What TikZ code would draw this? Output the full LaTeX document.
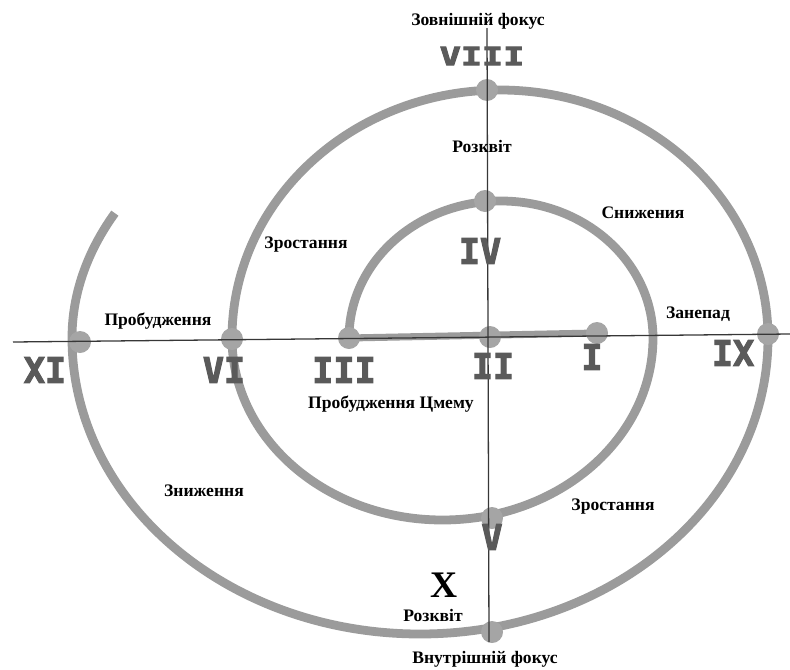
\documentclass[tikz,border=0pt]{standalone}
\usepackage{fontspec}
\setmainfont{Liberation Serif}
\newfontfamily\romfont{DejaVu Sans Mono}[BoldFeatures={FakeBold=3}]
\usetikzlibrary{backgrounds}
\definecolor{spiralgray}{RGB}{155,155,155}
\definecolor{dotgray}{RGB}{165,165,165}
\definecolor{numgray}{RGB}{90,90,90}
\definecolor{axisgray}{RGB}{55,55,55}

\begin{document}
\begin{tikzpicture}[x=0.03cm,y=-0.03cm,
	dot/.style={circle, fill=dotgray, minimum size=0.66cm, inner sep=0pt},
	spiral/.style={draw=spiralgray, line width=7.5pt},
	axis/.style={draw=axisgray, line width=1.1pt},
	roman/.style={font=\romfont\bfseries\fontsize{30}{30}\selectfont, text=numgray, inner sep=0pt},
	phase/.style={font=\bfseries\fontsize{15}{15}\selectfont, inner sep=1pt}]
	\useasboundingbox (0,0) rectangle (790,669);
	% points on the spiral
	\node[dot] (p8) at (487,90) {};
	\node[dot] (p4) at (485,201) {};
	\node[dot] (p2) at (490,337) {};
	\node[dot] (p1) at (597,333) {};
	\node[dot] (p9) at (768,334) {};
	\node[dot] (p3) at (349,338) {};
	\node[dot] (p6) at (232,339) {};
	\node[dot] (p11) at (80,342) {};
	\node[dot] (p5) at (492,518) {};
	\node[dot] (p10) at (492,632) {};
	\begin{scope}[on background layer]
		\draw[spiral, line width=6pt] (p3.center) -- (p1.center);
		\draw[spiral] (p3.center) arc[start angle=180, end angle=360, x radius=152, y radius=137]
			arc[start angle=0, end angle=180, x radius=210.5, y radius=182]
			arc[start angle=180, end angle=360, x radius=268, y radius=248]
			arc[start angle=0, end angle=180, x radius=348, y radius=296]
			arc[start angle=180, end angle=205.5, x radius=440, y radius=290];
	\end{scope}
	% axes
	\coordinate (hl) at (13,342);
	\coordinate (hr) at (790,334);
	\coordinate (vt) at (487,28);
	\coordinate (vb) at (489,642);
	\draw[axis] (hl) -- (hr);
	\draw[axis] (vt) -- (vb);
	% numerals
	\node[roman, yscale=0.72] (n8) at (482,56) {VIII};
	\node[roman] (n4) at (480,251) {IV};
	\node[roman] (n2) at (493,366) {II};
	\node[roman] (n1) at (592,357) {I};
	\node[roman] (n9) at (733,353) {IX};
	\node[roman] (n3) at (344,370) {III};
	\node[roman] (n6) at (224,370) {VI};
	\node[roman] (n11) at (45,370) {XI};
	\node[roman] (n5) at (492,537) {V};
	\node[font=\bfseries\fontsize{32}{32}\selectfont, inner sep=0pt] (n10) at (444,585) {X};
	% phases
	\node[phase] (outer) at (478,21) {Зовнішній фокус};
	\node[phase] (bloom1) at (482,146) {Розквіт};
	\node[phase] (decl1) at (643,213) {Снижения};
	\node[phase] (grow1) at (306,245) {Зростання};
	\node[phase] (wake1) at (158,321) {Пробудження};
	\node[phase] (fall) at (698,314) {Занепад};
	\node[phase] (wake0) at (391,404) {Пробудження Цмему};
	\node[phase] (decl2) at (204,491) {Зниження};
	\node[phase] (grow2) at (613,507) {Зростання};
	\node[phase] (bloom2) at (433,615) {Розквіт};
	\node[phase] (inner) at (485,659) {Внутрішній фокус};
\end{tikzpicture}
\end{document}
